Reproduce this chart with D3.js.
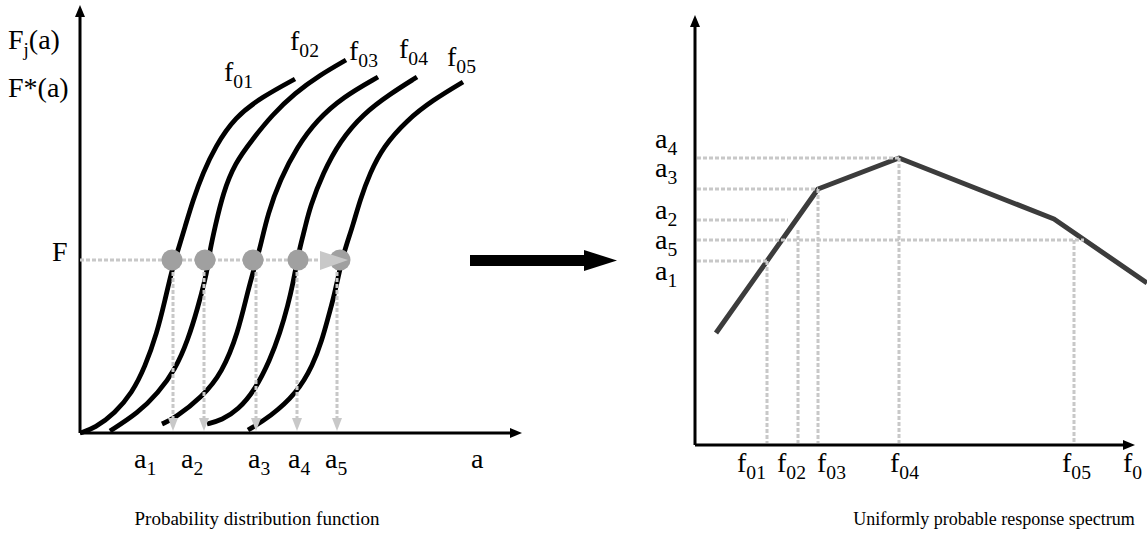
<!DOCTYPE html>
<html>
<head>
<meta charset="utf-8">
<script src="https://cdn.jsdelivr.net/npm/d3@7"></script>
<style>
  body { margin: 0; background: #fff; }
  svg text { font-family: "Liberation Serif", "Times New Roman", serif; fill: #000; }
</style>
</head>
<body>
<svg id="chart" width="1147" height="546"></svg>
<script>
// ======================
// DATA
// ======================

// left panel: distribution curves, [a, F] in panel units
const curveNames = ["f01", "f02", "f03", "f04", "f05"];
const curveF01 = [[0,0],[15,5],[35,20],[52,40],[65,66],[77,100],[85,133],[92,163],[98,183],[105,206],[113,233],[123,260],[135,286],[155,316],[182,336],[215,354]];
const curveF02 = [[30,2],[58,20],[78,40],[95,63],[108,93],[118,126],[125,153],[128,168],[130,183],[135,206],[143,240],[155,270],[172,293],[192,318],[215,340],[240,358],[266,373]];
const curveF03 = [[82,9],[95,15],[122,36],[142,60],[158,100],[168,143],[176,171],[180,185],[188,220],[200,253],[217,286],[237,313],[263,336],[298,356]];
const curveF04 = [[127,9],[142,13],[158,23],[175,43],[190,73],[200,100],[208,128],[213,150],[217,171],[220,186],[225,205],[230,226],[243,260],[260,292],[283,319],[310,339],[337,356]];
const curveF05 = [[168,3],[190,16],[217,40],[233,68],[242,93],[248,115],[253,133],[258,155],[262,173],[267,190],[273,208],[280,233],[290,260],[303,286],[327,313],[353,333],[383,351]];
const curveLabelPos = [[144,352],[210,383],[269,373],[319,375],[367,367]];

const levelF = 173;                      // the F level
const dotA = [92, 125, 173, 218, 260];   // where each curve meets F
const dropA = [93, 124, 176, 217, 257];  // dashed drop lines to the a axis
const aLabels = ["a1", "a2", "a3", "a4", "a5", "a"];
const aLabelX = [54, 101, 168, 208, 245, 391];

// right panel: response spectrum, [f, a] in panel units
const spectrum = [[21,112],[123,256],[204,287],[359,226],[452,162]];
const fLabels = ["f01", "f02", "f03", "f04", "f05", "f0"];
const fLabelX = [42, 82, 122, 195, 367, 428];
const fGuideX = [72, 103, 123, 204, 379];
const fGuideTop = [184, 215, 256, 287, 205];
const aLevelNames = ["a4", "a3", "a2", "a5", "a1"];
const aLevelY = [287, 256, 225, 205, 184];
const aLevelEnd = [204, 123, 93, 389, 72];
const aLevelLabelY = [297, 268, 226, 196, 165];

// ======================
// SETUP
// ======================

const svg = d3.select("#chart");
const guideColor = "#c8c8c8";
const dash = "4,2";
const labelSize = 28;

const xL = d3.scaleLinear().domain([0, 442]).range([80, 522]);
const yL = d3.scaleLinear().domain([0, 428]).range([433, 5]);
const xR = d3.scaleLinear().domain([0, 440]).range([695, 1135]);
const yR = d3.scaleLinear().domain([0, 430]).range([445, 15]);

// text with a subscript: "f01" -> f + 01
function subLabel(g, name, x, y, size) {
  const t = g.append("text").attr("x", x).attr("y", y).style("font-size", size + "px");
  t.append("tspan").text(name[0]);
  if (name.length > 1) {
    t.append("tspan").attr("dy", size * 0.26).style("font-size", (size * 0.7) + "px").text(name.slice(1));
  }
  return t;
}

function axisArrow(g, x1, y1, x2, y2) {
  const ang = Math.atan2(y2 - y1, x2 - x1);
  const len = 12, half = 5;
  const bx = x2 - len * Math.cos(ang), by = y2 - len * Math.sin(ang);
  g.append("line")
    .attr("x1", x1).attr("y1", y1).attr("x2", bx).attr("y2", by)
    .attr("stroke", "#000").attr("stroke-width", 3);
  g.append("path")
    .attr("d", `M${x2},${y2}L${bx - half * Math.sin(ang)},${by + half * Math.cos(ang)}L${bx + half * Math.sin(ang)},${by - half * Math.cos(ang)}Z`)
    .attr("fill", "#000");
}

// ======================
// LEFT PANEL
// ======================

const left = svg.append("g");
axisArrow(left, xL(0), yL(0), xL(0), yL(428));
axisArrow(left, xL(0), yL(0), xL(442), yL(0));

const curveLine = d3.line()
  .x(d => xL(d[0]))
  .y(d => yL(d[1]))
  .curve(d3.curveBasis);

[curveF01, curveF02, curveF03, curveF04, curveF05].forEach(c => {
  left.append("path")
    .attr("d", curveLine(c))
    .attr("fill", "none")
    .attr("stroke", "#000")
    .attr("stroke-width", 4.8);
});

curveNames.forEach((n, i) => subLabel(left, n, xL(curveLabelPos[i][0]), yL(curveLabelPos[i][1]), labelSize));

// horizontal F guide
left.append("line")
  .attr("x1", xL(0)).attr("x2", xL(240))
  .attr("y1", yL(levelF)).attr("y2", yL(levelF))
  .attr("stroke", guideColor).attr("stroke-width", 3).attr("stroke-dasharray", dash);

// vertical drops to the a axis
dropA.forEach(a => {
  left.append("line")
    .attr("x1", xL(a)).attr("x2", xL(a))
    .attr("y1", yL(levelF)).attr("y2", yL(15))
    .attr("stroke", guideColor).attr("stroke-width", 3).attr("stroke-dasharray", dash);
  left.append("path")
    .attr("d", `M${xL(a)},${yL(2)}L${xL(a) - 5},${yL(15)}L${xL(a) + 5},${yL(15)}Z`)
    .attr("fill", guideColor);
});

left.selectAll("circle.dot")
  .data(dotA)
  .enter()
  .append("circle")
  .attr("class", "dot")
  .attr("cx", d => xL(d))
  .attr("cy", yL(levelF))
  .attr("r", 10.5)
  .attr("fill", "#a0a0a0");

left.append("path")
  .attr("d", `M${xL(268)},${yL(levelF)}L${xL(240)},${yL(levelF) - 9}L${xL(240)},${yL(levelF) + 10}Z`)
  .attr("fill", guideColor);

// axis texts
const fj = left.append("text").attr("x", 8).attr("y", 49).style("font-size", labelSize + "px");
fj.append("tspan").text("F");
fj.append("tspan").attr("dy", 7).style("font-size", "19px").text("j");
fj.append("tspan").attr("dy", -7).text("(a)");
left.append("text").attr("x", 8).attr("y", 97).style("font-size", labelSize + "px").text("F*(a)");
left.append("text").attr("x", 52).attr("y", yL(levelF) + 1).style("font-size", labelSize + "px").text("F");

aLabels.forEach((n, i) => subLabel(left, n, xL(aLabelX[i]), 468, labelSize));

left.append("text")
  .attr("x", 257).attr("y", 525)
  .attr("text-anchor", "middle")
  .style("font-size", "19px")
  .text("Probability distribution function");

// ======================
// BIG ARROW
// ======================

svg.append("rect").attr("x", 470).attr("y", 255).attr("width", 116).attr("height", 11).attr("fill", "#000");
svg.append("path").attr("d", "M584,250L617,260.5L584,271Z").attr("fill", "#000");

// ======================
// RIGHT PANEL
// ======================

const right = svg.append("g");
axisArrow(right, xR(0), yR(0), xR(0), yR(430));
axisArrow(right, xR(0), yR(0), xR(440), yR(0));

right.append("path")
  .attr("d", d3.line().x(d => xR(d[0])).y(d => yR(d[1]))(spectrum))
  .attr("fill", "none")
  .attr("stroke", "#3c3c3c")
  .attr("stroke-width", 5)
  .attr("stroke-linejoin", "round");

aLevelY.forEach((a, i) => {
  right.append("line")
    .attr("x1", xR(0) + 2).attr("x2", xR(aLevelEnd[i]))
    .attr("y1", yR(a)).attr("y2", yR(a))
    .attr("stroke", guideColor).attr("stroke-width", 3).attr("stroke-dasharray", dash);
});

fGuideX.forEach((f, i) => {
  right.append("line")
    .attr("x1", xR(f)).attr("x2", xR(f))
    .attr("y1", yR(fGuideTop[i])).attr("y2", yR(0) - 2)
    .attr("stroke", guideColor).attr("stroke-width", 3).attr("stroke-dasharray", dash);
});

aLevelNames.forEach((n, i) => subLabel(right, n, 655, yR(aLevelLabelY[i]), labelSize));
fLabels.forEach((n, i) => subLabel(right, n, xR(fLabelX[i]), 472, labelSize));

right.append("text")
  .attr("x", 994).attr("y", 525)
  .attr("text-anchor", "middle")
  .style("font-size", "18px")
  .text("Uniformly probable response spectrum");
</script>
</body>
</html>
